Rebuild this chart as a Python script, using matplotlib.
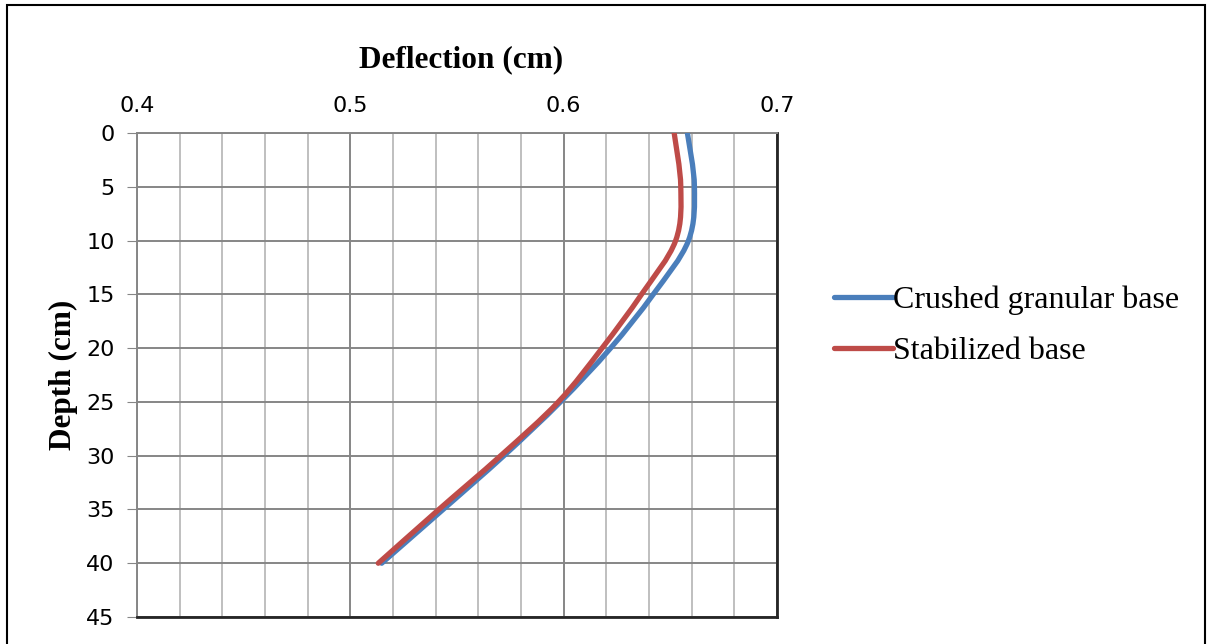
import numpy as np
import matplotlib
matplotlib.use('Agg')
import matplotlib.pyplot as plt
from matplotlib.path import Path
from matplotlib.patches import PathPatch, Rectangle
from matplotlib.lines import Line2D

depth = [0, 5, 10, 15, 20, 25, 30, 35, 40]
crushed = [0.658, 0.6613, 0.6585, 0.642, 0.622, 0.5985, 0.572, 0.5435, 0.5147]
stabilized = [0.6518, 0.6549, 0.6525, 0.6365, 0.618, 0.5975, 0.5705, 0.5415, 0.5131]

labels = ['Crushed granular base', 'Stabilized base']
colors = ['#4a7ebb', '#be4b48']


def smooth_path(x, y, t=1/6):
    # excel-like smoothed line: catmull-rom as cubic bezier
    pts = np.column_stack([x, y])
    n = len(pts)
    verts = [pts[0]]
    codes = [Path.MOVETO]
    for i in range(n - 1):
        p0 = pts[max(i - 1, 0)]
        p1 = pts[i]
        p2 = pts[i + 1]
        p3 = pts[min(i + 2, n - 1)]
        c1 = p1 + (p2 - p0) * t
        c2 = p2 - (p3 - p1) * t
        verts += [c1, c2, p2]
        codes += [Path.CURVE4] * 3
    return Path(verts, codes)


fig = plt.figure(figsize=(12.07, 6.44), dpi=100)
ax = fig.add_axes([137/1207, 1 - 617/644, 640/1207, 484/644])

for xs, c in zip([crushed, stabilized], colors):
    ax.add_patch(PathPatch(smooth_path(xs, depth), fill=False, edgecolor=c,
                           lw=3.8, capstyle='round', zorder=3))

ax.set_xlim(0.4, 0.7)
ax.set_ylim(45, 0)
ax.set_xticks(np.arange(0.4, 0.71, 0.1))
ax.set_xticks(np.arange(0.4, 0.7, 0.02), minor=True)
ax.set_yticks(range(0, 46, 5))
ax.xaxis.tick_top()
ax.set_xticklabels(['0.4', '0.5', '0.6', '0.7'])
ax.tick_params(axis='x', which='both', length=0, labelsize=16, pad=12)
ax.tick_params(axis='y', length=7, color='#868686', labelsize=16, pad=9)
ax.grid(which='major', color='#868686', lw=1.4)
ax.grid(which='minor', axis='x', color='#bfbfbf', lw=1.4)
ax.set_axisbelow(True)
for s in ['left', 'top']:
    ax.spines[s].set_color('#868686')
    ax.spines[s].set_linewidth(1.4)
for s in ['right', 'bottom']:
    ax.spines[s].set_color('#262626')
    ax.spines[s].set_linewidth(2)

fig.text(461/1207, 1 - 60/644, 'Deflection (cm)', family='Liberation Serif',
         weight='bold', fontsize=22.5, ha='center', va='center')
fig.text(63/1207, 1 - 375/644, 'Depth (cm)', family='Liberation Serif',
         weight='bold', fontsize=22.5, ha='center', va='center', rotation=90)

handles = [Line2D([], [], color=c, lw=3.8, solid_capstyle='round') for c in colors]
fig.legend(handles, labels, loc='center left', bbox_to_anchor=(821/1207, 1 - 326/644),
           frameon=False, prop={'family': 'Liberation Serif', 'size': 23},
           handlelength=1.85, handletextpad=0.0, labelspacing=0.68,
           borderaxespad=0, borderpad=0.4)

fig.patches.append(Rectangle((7/1207, -0.05), 1198/1207, 1.05 - 5/644,
                             transform=fig.transFigure, fill=False,
                             edgecolor='black', lw=1.5))

fig.savefig('out.png', dpi=100)
